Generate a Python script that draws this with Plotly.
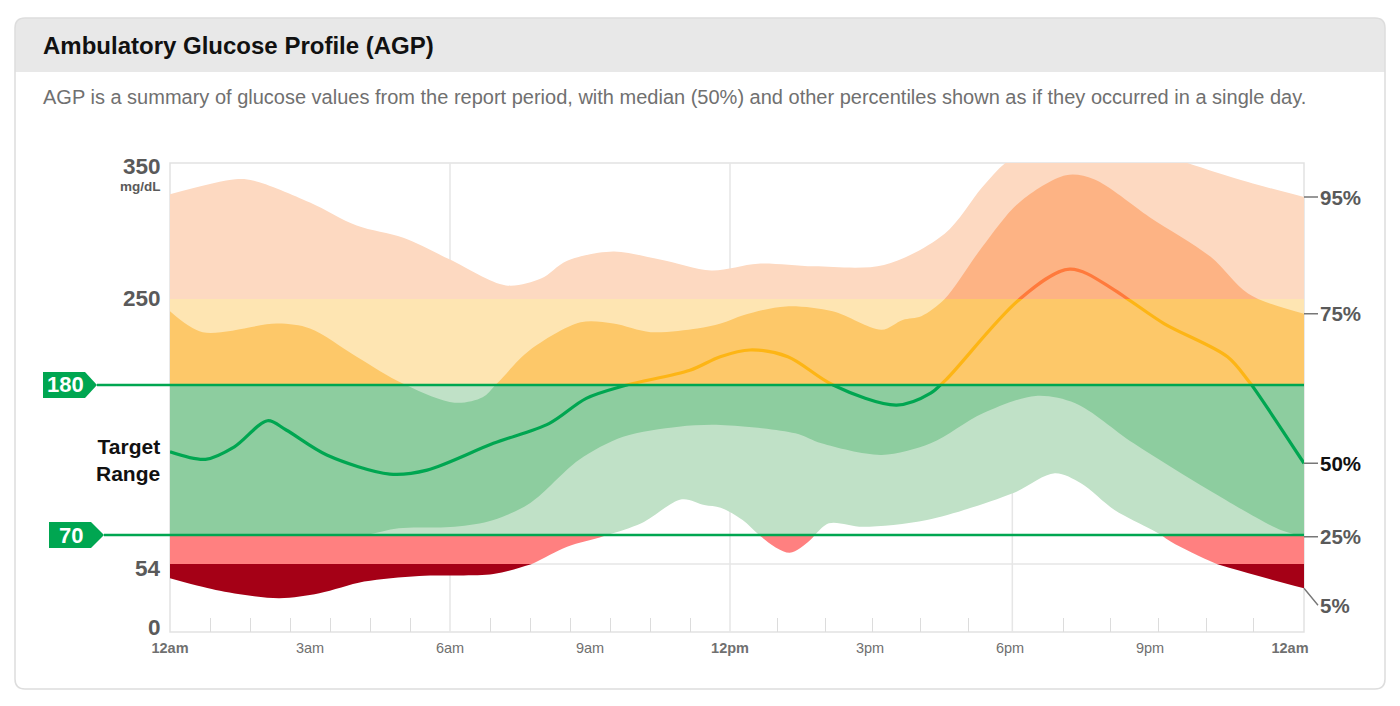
import numpy as np
import plotly.graph_objects as go

# glucose percentiles over the day (hours after midnight, mg/dL)
H95 = [0, 1.4, 1.8, 3.0, 4.0, 5.0, 6.0, 7.2, 7.95, 8.5, 9.5, 10.5, 11.6, 12.6, 13.8, 15.3,
       16.6, 17.4, 17.9, 18.6, 19.7, 20.8, 21.8, 23.1, 24.3]
P95 = [327, 338, 337, 321, 304, 295, 279, 260, 265, 278, 285, 279, 271, 276, 274, 275,
       298, 332, 350, 364, 370, 362, 350, 336, 325]

H75 = [0, 0.7, 2.3, 3.0, 4.0, 5.0, 6.1, 6.7, 7.0, 7.7, 8.8, 9.5, 10.3, 11.3, 11.8, 12.3,
       13.2, 14.2, 15.25, 15.7, 16.1, 16.6, 17.4, 18.2, 19.2, 19.8, 21.0, 22.3, 23.1, 24.3]
P75 = [240, 223, 230, 226, 203, 181, 167, 171, 181, 208, 231, 230, 223, 226, 230, 237,
       244, 240, 225, 233, 236, 250, 288, 321, 341, 338, 310, 281, 254, 238]

H50 = [0, 0.76, 1.38, 2.09, 2.49, 3.36, 4.71, 5.51, 6.93, 8.13, 8.92, 9.79, 11.14, 11.79,
       12.43, 13.24, 14.21, 15.57, 16.3, 16.62, 18.23, 19.28, 20.24, 21.3, 22.66, 23.15, 24.3]
P50 = [131, 125.5, 134.7, 153.8, 147, 128.7, 114.7, 117.6, 137.2, 151.9, 170.2, 180, 192,
       203, 208.5, 203, 180, 165.3, 174, 184, 250.5, 272, 256.6, 230, 203, 181.4, 122.6]

H25 = [0, 2.0, 3.0, 4.2, 4.9, 6.1, 6.93, 7.72, 8.76, 9.71, 10.9, 11.8, 13.4, 13.96, 15.25,
       16.3, 17.42, 18.55, 19.4, 20.65, 22.26, 23.8, 24.3]
P25 = [62, 60, 64, 70, 75, 76, 81, 93.5, 125, 142, 149.4, 150.7, 144.6, 137.2, 128.7,
       137.2, 159.2, 172, 166.6, 137.2, 103, 73.7, 69]

H05 = [0, 0.98, 2.33, 3.2, 4.16, 5.34, 6.93, 7.72, 8.51, 9.3, 10.1, 10.97, 11.45, 11.8,
       12.27, 12.67, 13.28, 13.72, 14.12, 14.85, 16.22, 18.06, 18.96, 19.52, 20.24, 21.05,
       21.45, 22.5, 24.3]
P05 = [42.6, 33.4, 26.8, 30.7, 40, 44.5, 46, 53.6, 63.5, 69.4, 78.6, 96.2, 92, 90, 81, 69,
       60.2, 67.2, 78.6, 76, 81, 100.6, 115.2, 107.9, 88.3, 73.7, 66.3, 53.2, 34.7]

# glucose zones: edges and colours (outer 5-95 band, inner 25-75 band, median line)
ZONE_EDGES = [0, 54, 70, 180, 250, 350]
ZONE_OUTER = ["#A50016", "#FF8080", "#C0E1C7", "#FEE5B2", "#FDD9C1"]
ZONE_INNER = ["#A50016", "#FF8080", "#8DCD9F", "#FDC869", "#FDB384"]
ZONE_MEDIAN = [None, None, "#00A651", "#FDB515", "#FF7A3C"]
# share of the plot height each zone gets (non-linear AGP scale)
ZONE_PAPER = [0, 0.145, 0.2068, 0.5267, 0.7100, 1.0]

X_TICKS = [0, 3, 6, 9, 12, 15, 18, 21, 24]
X_LABELS = ["<b>12am</b>", "3am", "6am", "9am", "<b>12pm</b>", "3pm", "6pm", "9pm", "<b>12am</b>"]

# page coordinates (the page body adds an 8px offset)
OFF = 8
W, H = 1392 - OFF, 698 - OFF
L, R, T, B = 170, 1304, 163, 632
FONT = "Liberation Sans, Arial, sans-serif"


def px_x(px):
    return (px - L) / (R - L)


def px_y(py):
    return (B - py) / (B - T)


def val_y(v):
    return float(np.interp(v, ZONE_EDGES, ZONE_PAPER))


def rounded_rect(x0, y0, x1, y1, r, bottom=True):
    # pixel box -> paper path with rounded corners
    X = lambda p: f"{px_x(p):.5f}"
    Y = lambda p: f"{px_y(p):.5f}"
    s = f"M {X(x0 + r)},{Y(y0)} L {X(x1 - r)},{Y(y0)} Q {X(x1)},{Y(y0)} {X(x1)},{Y(y0 + r)} "
    if bottom:
        s += (f"L {X(x1)},{Y(y1 - r)} Q {X(x1)},{Y(y1)} {X(x1 - r)},{Y(y1)} "
              f"L {X(x0 + r)},{Y(y1)} Q {X(x0)},{Y(y1)} {X(x0)},{Y(y1 - r)} ")
    else:
        s += f"L {X(x1)},{Y(y1)} L {X(x0)},{Y(y1)} "
    s += f"L {X(x0)},{Y(y0 + r)} Q {X(x0)},{Y(y0)} {X(x0 + r)},{Y(y0)} Z"
    return s


fig = go.Figure()
spline = dict(width=0, shape="spline", smoothing=0.9)

for i in range(len(ZONE_EDGES) - 1):
    ya = "y" if i == 0 else f"y{i + 1}"
    bands = [(H05, P05, H95, P95, ZONE_OUTER[i]), (H25, P25, H75, P75, ZONE_INNER[i])]
    for hx_lo, lo, hx_hi, hi, col in bands:
        fig.add_trace(go.Scatter(x=hx_lo, y=lo, mode="lines", line=spline, yaxis=ya,
                                 hoverinfo="skip", showlegend=False))
        fig.add_trace(go.Scatter(x=hx_hi, y=hi, mode="lines", line=spline, yaxis=ya,
                                 fill="tonexty", fillcolor=col, hoverinfo="skip",
                                 showlegend=False))
    if ZONE_MEDIAN[i]:
        fig.add_trace(go.Scatter(x=H50, y=P50, mode="lines", yaxis=ya,
                                 line=dict(color=ZONE_MEDIAN[i], width=3.2, shape="spline",
                                           smoothing=0.9),
                                 hoverinfo="skip", showlegend=False))
    fig.layout[f"yaxis{i + 1 if i else ''}"] = dict(
        domain=[ZONE_PAPER[i], ZONE_PAPER[i + 1]], range=[ZONE_EDGES[i], ZONE_EDGES[i + 1]],
        visible=False, anchor="x", fixedrange=True)

minor = [k * 6 / 7 for k in range(1, 14) if k != 7] + [12 + k * 1.02 for k in range(1, 12) if k != 6]

fig.update_xaxes(range=[0, 24.3], tickvals=X_TICKS, ticktext=X_LABELS, showgrid=False,
                 zeroline=False, showline=False, ticks="", anchor="y", ticklabelstandoff=5,
                 tickfont=dict(family=FONT, size=14.5, color="#707070"),
                 minor=dict(tickmode="array", tickvals=minor, ticks="inside", ticklen=14,
                            tickcolor="#DCDCDC", tickwidth=1.2, showgrid=False),
                 fixedrange=True)

shapes = []
# card and header
shapes.append(dict(type="path", xref="paper", yref="paper", layer="below",
                   path=rounded_rect(15, 18, 1385, 72, 10, bottom=False),
                   fillcolor="#E8E8E8", line=dict(width=0)))
shapes.append(dict(type="path", xref="paper", yref="paper", layer="below",
                   path=rounded_rect(15, 18, 1385, 689, 10),
                   line=dict(color="#DDDDDD", width=1.5)))
# plot frame and grid
shapes.append(dict(type="rect", xref="paper", yref="paper", x0=0, x1=1, y0=0, y1=1,
                   layer="below", line=dict(color="#E2E2E2", width=1.5)))
for hx in [6, 12, 18.05]:
    shapes.append(dict(type="line", xref="x", yref="paper", x0=hx, x1=hx, y0=0, y1=1,
                       layer="below", line=dict(color="#E6E6E6", width=1.5)))
for v in [54, 250]:
    shapes.append(dict(type="line", xref="paper", yref="paper", x0=0, x1=1,
                       y0=val_y(v), y1=val_y(v), layer="below",
                       line=dict(color="#E6E6E6", width=1.5)))

# target range lines with flags
for v, fx0, fx1, tip in [(180, 43, 85, 97), (70, 49, 91, 104)]:
    yc = val_y(v)
    h = 13 / (B - T)
    shapes.append(dict(type="line", xref="paper", yref="paper", x0=px_x(tip), x1=1,
                       y0=yc, y1=yc, layer="above", line=dict(color="#00A651", width=2.5)))
    shapes.append(dict(type="path", xref="paper", yref="paper", layer="above",
                       path=(f"M {px_x(fx0)},{yc - h} L {px_x(fx1)},{yc - h} "
                             f"L {px_x(tip)},{yc} L {px_x(fx1)},{yc + h} "
                             f"L {px_x(fx0)},{yc + h} Z"),
                       fillcolor="#00A651", line=dict(width=0)))

ann = []
ann.append(dict(text="<b>Ambulatory Glucose Profile (AGP)</b>", x=px_x(41), y=px_y(45),
                xanchor="left", yanchor="middle", font=dict(size=24, color="#111")))
ann.append(dict(text=("AGP is a summary of glucose values from the report period, with median "
                      "(50%) and other percentiles shown as if they occurred in a single day."),
                x=px_x(41), y=px_y(97), xanchor="left", yanchor="middle",
                font=dict(size=20, color="#707070")))
for py, label in [(166, "350"), (298, "250"), (568, "54"), (627, "0")]:
    ann.append(dict(text=f"<b>{label}</b>", x=px_x(163), y=px_y(py),
                    xanchor="right", yanchor="middle", font=dict(size=22.5, color="#5A5A5A")))
ann.append(dict(text="<b>mg/dL</b>", x=px_x(163), y=px_y(186), xanchor="right",
                yanchor="middle", font=dict(size=13.5, color="#5A5A5A")))
ann.append(dict(text="<b>Target<br>Range</b>", x=px_x(162), y=px_y(460), xanchor="right",
                yanchor="middle", align="right", font=dict(size=21, color="#111")))
for v, cx in [(180, 65), (70, 71)]:
    ann.append(dict(text=f"<b>{v}</b>", x=px_x(cx), y=val_y(v), xanchor="center",
                    yanchor="middle", font=dict(size=22, color="white")))

# percentile labels at the right end of each curve
for end, label, col, ay in [(P95[-1], "95%", "#5A5A5A", 0), (P75[-1], "75%", "#5A5A5A", 0),
                            (P50[-1], "50%", "#111", 0), (P25[-1], "25%", "#5A5A5A", 0),
                            (P05[-1], "5%", "#5A5A5A", 17)]:
    ann.append(dict(text=f"<b>{label}</b>", x=1, y=val_y(end), xref="paper", yref="paper",
                    showarrow=True, arrowhead=0, arrowwidth=1.4, arrowcolor="#777",
                    ax=14, ay=ay, xanchor="left", yanchor="middle", standoff=0,
                    font=dict(size=20.5, color=col)))

for a in ann:
    a.setdefault("xref", "paper")
    a.setdefault("yref", "paper")
    a.setdefault("showarrow", False)

fig.update_layout(width=W, height=H,
                  margin=dict(l=L - OFF, r=W - (R - OFF), t=T - OFF, b=H - (B - OFF), pad=0),
                  paper_bgcolor="white", plot_bgcolor="white", showlegend=False,
                  font=dict(family=FONT), shapes=shapes, annotations=ann,
                  hovermode=False)

fig.write_html("out.html", config={"displayModeBar": False})
